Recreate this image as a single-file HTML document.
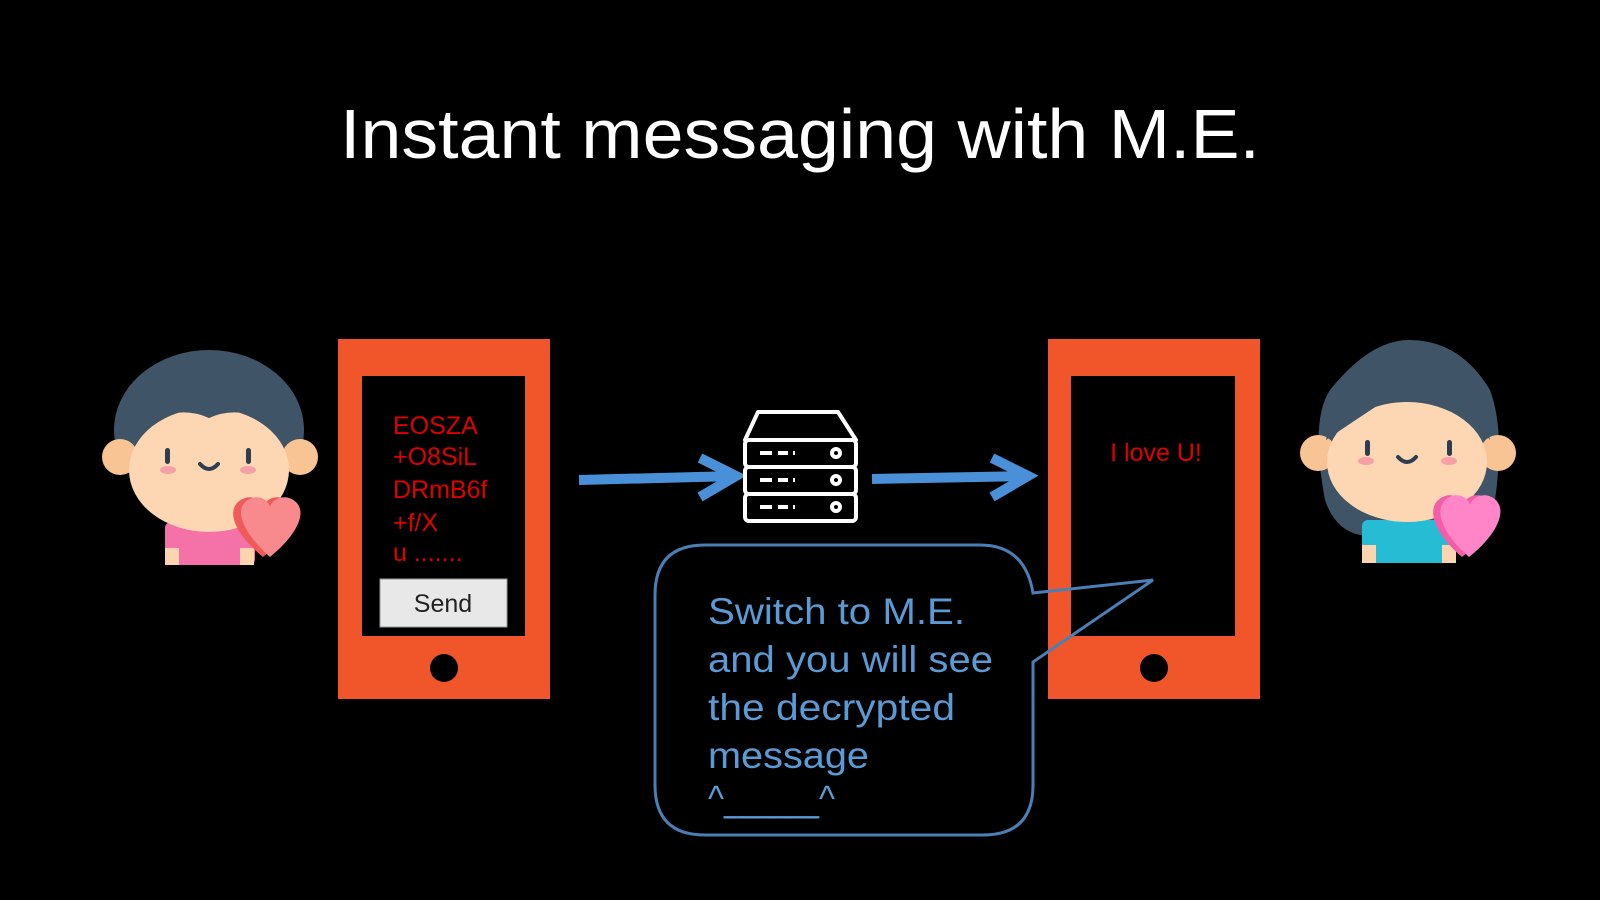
<!DOCTYPE html>
<html><head><meta charset="utf-8"><style>
html,body{margin:0;padding:0;background:#000;}
svg{display:block;}
</style></head><body>
<svg width="1600" height="900" viewBox="0 0 1600 900" xmlns="http://www.w3.org/2000/svg" font-family="Liberation Sans, Arial, sans-serif">
<rect width="1600" height="900" fill="#000"/>
<text x="800" y="158" font-size="70" fill="#fff" text-anchor="middle" textLength="920" lengthAdjust="spacingAndGlyphs">Instant messaging with M.E.</text>

<!-- Boy -->
<g>
<ellipse cx="209" cy="430" rx="95" ry="80" fill="#3f5467"/>
<circle cx="120" cy="457" r="18" fill="#f9c494"/>
<circle cx="300" cy="457" r="18" fill="#f9c494"/>
<rect x="165" y="522" width="90" height="43" rx="6" fill="#f472a8"/>
<rect x="165" y="548" width="14" height="17" fill="#fcd5b0"/>
<rect x="240" y="548" width="14" height="17" fill="#fcd5b0"/>
<ellipse cx="209" cy="470" rx="80" ry="62" fill="#fdd7b4"/>
<path d="M130 440 Q140 370 209 365 Q278 370 290 440 Q250 400 209 418 Q168 400 130 440Z" fill="#3f5467"/>
<rect x="165" y="448" width="5" height="16" rx="2.5" fill="#2c3e50"/>
<rect x="246" y="448" width="5" height="16" rx="2.5" fill="#2c3e50"/>
<ellipse cx="168" cy="470" rx="8" ry="4" fill="#f6a0a8"/>
<ellipse cx="248" cy="470" rx="8" ry="4" fill="#f6a0a8"/>
<path d="M200 464 Q209 474 218 464" stroke="#2c3e50" stroke-width="4" fill="none" stroke-linecap="round"/>
<path d="M263 557 C230 530 225 505 245 498 C255 495 262 502 263 507 C264 502 272 495 282 498 C302 505 296 530 263 557Z" fill="#f05a5a"/>
<path d="M270 557 C240 530 232 505 252 498 C262 495 269 502 270 507 C271 502 279 495 289 498 C309 505 303 530 270 557Z" fill="#f88a8e"/>
</g>

<!-- Girl -->
<g>
<path d="M1325 500 Q1310 420 1330 390 Q1370 340 1409 340 Q1460 340 1490 390 Q1505 430 1495 500 Q1480 535 1460 535 L1360 535 Q1335 530 1325 500Z" fill="#3f5467"/>
<circle cx="1318" cy="453" r="18" fill="#f9c494"/>
<circle cx="1498" cy="453" r="18" fill="#f9c494"/>
<rect x="1362" y="520" width="94" height="43" rx="6" fill="#26bcd4"/>
<rect x="1362" y="545" width="14" height="18" fill="#fcd5b0"/>
<rect x="1442" y="545" width="14" height="18" fill="#fcd5b0"/>
<ellipse cx="1407" cy="462" rx="80" ry="60" fill="#fdd7b4"/>
<path d="M1326 440 Q1340 365 1407 360 Q1475 365 1490 440 Q1470 415 1452 395 Q1430 380 1410 385 Q1385 400 1326 440Z" fill="#3f5467"/>
<rect x="1365" y="440" width="5" height="16" rx="2.5" fill="#2c3e50"/>
<rect x="1447" y="440" width="5" height="16" rx="2.5" fill="#2c3e50"/>
<ellipse cx="1366" cy="461" rx="8" ry="4" fill="#f6a0a8"/>
<ellipse cx="1449" cy="461" rx="8" ry="4" fill="#f6a0a8"/>
<path d="M1398 457 Q1407 467 1416 457" stroke="#2c3e50" stroke-width="4" fill="none" stroke-linecap="round"/>
<path d="M1462 557 C1430 530 1425 503 1445 496 C1455 493 1462 500 1463 505 C1464 500 1472 493 1482 496 C1502 503 1496 530 1462 557Z" fill="#f25ea8"/>
<path d="M1469 557 C1438 530 1432 503 1452 496 C1462 493 1469 500 1470 505 C1471 500 1479 493 1489 496 C1509 503 1503 530 1469 557Z" fill="#ff85c8"/>
</g>

<!-- Left phone -->
<rect x="338" y="339" width="212" height="360" fill="#f0562a"/>
<rect x="362" y="376" width="163" height="260" fill="#000"/>
<circle cx="444" cy="668" r="14" fill="#000"/>
<g fill="#e00000" font-size="25">
<text x="393" y="434">EOSZA</text>
<text x="393" y="465">+O8SiL</text>
<text x="393" y="498">DRmB6f</text>
<text x="393" y="531">+f/X</text>
<text x="393" y="561">u .......</text>
</g>
<rect x="380" y="579" width="127" height="48" fill="#e8e8e8" stroke="#999" stroke-width="1"/>
<text x="443" y="612" font-size="25" fill="#222" text-anchor="middle">Send</text>

<!-- Right phone -->
<rect x="1048" y="339" width="212" height="360" fill="#f0562a"/>
<rect x="1071" y="376" width="164" height="260" fill="#000"/>
<circle cx="1154" cy="668" r="14" fill="#000"/>
<text x="1156" y="461" font-size="25" fill="#e00000" text-anchor="middle">I love U!</text>

<!-- Arrows -->
<g stroke="#4a90d9" stroke-width="10" fill="none" stroke-linecap="butt">
<line x1="579" y1="480" x2="736" y2="476"/>
<polyline points="700,458 736,476 700,497"/>
<line x1="872" y1="479" x2="1028" y2="476"/>
<polyline points="992,458 1028,476 992,497"/>
</g>

<!-- Server -->
<g stroke="#fff" stroke-width="4" fill="none" stroke-linejoin="round">
<path d="M745 440 L758 412 L838 412 L856 440Z"/>
<rect x="745" y="440" width="111" height="27" rx="4"/>
<rect x="745" y="467" width="111" height="27" rx="4"/>
<rect x="745" y="494" width="111" height="27" rx="4"/>
<circle cx="836" cy="453" r="4"/>
<circle cx="836" cy="480" r="4"/>
<circle cx="836" cy="507" r="4"/>
<path d="M760 453h12M778 453h10M793 453h2M760 480h12M778 480h10M793 480h2M760 507h12M778 507h10M793 507h2"/>
</g>

<!-- Speech bubble -->
<path d="M705 545 L980 545 Q1025 545 1033 593 L1153 580 L1033 662 L1033 785 Q1033 835 983 835 L705 835 Q655 835 655 785 L655 595 Q655 545 705 545Z" fill="none" stroke="#4a7fb5" stroke-width="3"/>
<g fill="#5b9bd5" font-size="37">
<text x="708" y="624" textLength="257" lengthAdjust="spacingAndGlyphs">Switch to M.E.</text>
<text x="708" y="672" textLength="285" lengthAdjust="spacingAndGlyphs">and you will see</text>
<text x="708" y="720" textLength="247" lengthAdjust="spacingAndGlyphs">the decrypted</text>
<text x="708" y="768" textLength="161" lengthAdjust="spacingAndGlyphs">message</text>
<text x="708" y="811" textLength="127" lengthAdjust="spacingAndGlyphs">^_____^</text>
</g>
</svg>
</body></html>
